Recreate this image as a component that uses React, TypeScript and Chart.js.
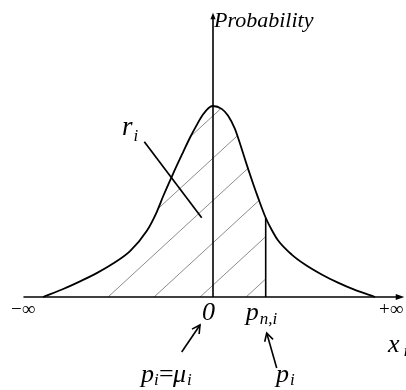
import React, { useEffect, useRef } from "react";
import { Chart, registerables } from "chart.js";
Chart.register(...registerables);

// Density curve (x in arbitrary units, 0 = mean)
const curveX = [-10, -8.81, -7.82, -6.84, -5.88, -4.88, -3.9, -3.31, -2.92, -2.35, -1.75, -1.35, -0.96, -0.59, -0.18, 0, 0.51, 0.88, 1.29, 1.47, 1.78, 2.06, 2.37, 2.65, 3.1, 3.45, 3.82, 4.63, 5.41, 6.39, 7.35, 8.35, 9.53];
const curveY = [0, 0.042, 0.082, 0.125, 0.175, 0.24, 0.345, 0.445, 0.53, 0.645, 0.76, 0.835, 0.9, 0.955, 0.995, 1.0, 0.985, 0.95, 0.88, 0.835, 0.75, 0.672, 0.59, 0.52, 0.415, 0.352, 0.297, 0.222, 0.17, 0.118, 0.075, 0.037, 0];
const pni = 3.1; // p_{n,i}
const mu = 0;
const xRange = [-10, 10];
const yRange = [0, 1.5];
const axisXExtent = [-11.15, 11.25];
const axisYTop = 1.488;
const hatchAnchor = -0.76;
const hatchStartX = -7.4;
const rPointer = [[-4.04, 0.813], [-0.665, 0.415]];

const FONT = '"Liberation Serif", "Times New Roman", serif';

function arrowHead(ctx: CanvasRenderingContext2D, fx: number, fy: number, tx: number, ty: number, len: number, ang: number, filled: boolean) {
  const a = Math.atan2(ty - fy, tx - fx);
  const p1x = tx - len * Math.cos(a - ang), p1y = ty - len * Math.sin(a - ang);
  const p2x = tx - len * Math.cos(a + ang), p2y = ty - len * Math.sin(a + ang);
  ctx.beginPath();
  if (filled) {
    ctx.moveTo(tx, ty); ctx.lineTo(p1x, p1y); ctx.lineTo(p2x, p2y); ctx.closePath(); ctx.fill();
  } else {
    ctx.moveTo(p1x, p1y); ctx.lineTo(tx, ty); ctx.lineTo(p2x, p2y); ctx.stroke();
  }
}

function txt(ctx: CanvasRenderingContext2D, s: string, x: number, y: number, size: number, italic: boolean): number {
  ctx.font = `${italic ? "italic " : ""}${size}px ${FONT}`;
  ctx.fillText(s, x, y);
  return x + ctx.measureText(s).width;
}

const figurePlugin = {
  id: "figure",
  beforeDatasetsDraw(chart: any) {
    const ctx: CanvasRenderingContext2D = chart.ctx;
    const xs = chart.scales.x, ys = chart.scales.y;
    const meta = chart.getDatasetMeta(0);
    meta.dataset.updateControlPoints(chart.chartArea, "x");
    const pts = meta.data;
    const idx = curveX.indexOf(pni);
    const yb = ys.getPixelForValue(0);
    ctx.save();
    ctx.beginPath();
    ctx.moveTo(pts[0].x, yb);
    ctx.lineTo(pts[0].x, pts[0].y);
    for (let i = 1; i <= idx; i++) {
      const p = pts[i - 1], c = pts[i];
      ctx.bezierCurveTo(p.cp2x, p.cp2y, c.cp1x, c.cp1y, c.x, c.y);
    }
    ctx.lineTo(pts[idx].x, yb);
    ctx.closePath();
    ctx.clip();
    const hx = xs.getPixelForValue(hatchStartX);
    ctx.beginPath();
    ctx.rect(hx, 0, chart.width, chart.height);
    ctx.clip();
    ctx.strokeStyle = "#6e6e6e";
    ctx.lineWidth = 0.8;
    const ax = xs.getPixelForValue(hatchAnchor);
    const slope = 0.92, step = 46, L = 420;
    for (let k = -12; k <= 12; k++) {
      const bx = ax + k * step;
      ctx.beginPath();
      ctx.moveTo(bx, yb);
      ctx.lineTo(bx + L, yb - L * slope);
      ctx.stroke();
    }
    ctx.restore();
  },
  afterDatasetsDraw(chart: any) {
    const ctx: CanvasRenderingContext2D = chart.ctx;
    const xs = chart.scales.x, ys = chart.scales.y;
    const x0 = xs.getPixelForValue(mu);
    const xp = xs.getPixelForValue(pni);
    const yb = ys.getPixelForValue(0);
    ctx.save();
    ctx.strokeStyle = "#000";
    ctx.fillStyle = "#000";
    ctx.lineCap = "butt";
    // x axis
    const xl = xs.getPixelForValue(axisXExtent[0]);
    const xr = xs.getPixelForValue(axisXExtent[1]);
    ctx.lineWidth = 1.6;
    ctx.beginPath(); ctx.moveTo(xl, yb); ctx.lineTo(xr - 6, yb); ctx.stroke();
    arrowHead(ctx, xl, yb, xr, yb, 9, 0.33, true);
    // y axis
    const yt = ys.getPixelForValue(axisYTop);
    ctx.beginPath(); ctx.moveTo(x0, yb); ctx.lineTo(x0, yt + 5); ctx.stroke();
    arrowHead(ctx, x0, yb, x0, yt, 7, 0.38, true);
    // r_i pointer
    ctx.lineWidth = 1.7;
    ctx.beginPath();
    ctx.moveTo(xs.getPixelForValue(rPointer[0][0]), ys.getPixelForValue(rPointer[0][1]));
    ctx.lineTo(xs.getPixelForValue(rPointer[1][0]), ys.getPixelForValue(rPointer[1][1]));
    ctx.stroke();
    // pointer arrows below axis
    ctx.lineWidth = 1.6;
    const a1 = [x0 - 31.3, yb + 55, x0 - 13, yb + 28];
    ctx.beginPath(); ctx.moveTo(a1[0], a1[1]); ctx.lineTo(a1[2], a1[3]); ctx.stroke();
    arrowHead(ctx, a1[0], a1[1], a1[2], a1[3], 9, 0.5, false);
    const a2 = [xp + 11, yb + 71, xp + 1, yb + 36];
    ctx.beginPath(); ctx.moveTo(a2[0], a2[1]); ctx.lineTo(a2[2], a2[3]); ctx.stroke();
    arrowHead(ctx, a2[0], a2[1], a2[2], a2[3], 9, 0.5, false);

    // labels
    ctx.textBaseline = "alphabetic";
    ctx.textAlign = "left";
    txt(ctx, "Probability", x0 + 1, 27, 22, true);
    let e = txt(ctx, "r", x0 - 91, 135, 27, true);
    txt(ctx, "i", e + 1, 141, 17, true);
    txt(ctx, "0", x0 - 11, yb + 23, 26, true);
    e = txt(ctx, "p", xp - 20, yb + 23, 26, true);
    txt(ctx, "n,i", e + 1, yb + 27, 17, true);
    txt(ctx, "\u2212\u221E", 11, yb + 18, 19, false);
    txt(ctx, "+\u221E", 379, yb + 18, 19, false);
    txt(ctx, "x", 388, 352, 26, true);
    txt(ctx, "i", 403.5, 356, 17, true);
    e = txt(ctx, "p", 141, 381.5, 26, true);
    txt(ctx, "i", e, 385, 17, true);
    txt(ctx, "=", 159, 381.5, 26, false);
    e = txt(ctx, "\u03BC", 173, 381.5, 26, true);
    txt(ctx, "i", e + 1, 385, 17, true);
    e = txt(ctx, "p", 276, 381.5, 26, true);
    txt(ctx, "i", e + 1, 385, 17, true);
    ctx.restore();
  },
};

export default function App() {
  const ref = useRef<HTMLCanvasElement | null>(null);
  useEffect(() => {
    if (!ref.current) return;
    const idx = curveX.indexOf(pni);
    const chart = new Chart(ref.current, {
      type: "scatter",
      data: {
        datasets: [
          {
            data: curveX.map((x, i) => ({ x, y: curveY[i] })),
            showLine: true,
            borderColor: "#000",
            borderWidth: 1.8,
            pointRadius: 0,
            cubicInterpolationMode: "monotone",
            fill: false,
            clip: false,
          } as any,
          {
            data: [{ x: pni, y: 0 }, { x: pni, y: curveY[idx] }],
            showLine: true,
            borderColor: "#000",
            borderWidth: 1.6,
            pointRadius: 0,
            clip: false,
          } as any,
        ],
      },
      options: {
        animation: false,
        responsive: false,
        devicePixelRatio: 1,
        layout: { padding: { left: 43, right: 23, top: 10.5, bottom: 93 } },
        plugins: { legend: { display: false }, tooltip: { enabled: false } },
        events: [],
        scales: {
          x: { type: "linear", min: xRange[0], max: xRange[1], display: false },
          y: { type: "linear", min: yRange[0], max: yRange[1], display: false },
        },
      },
      plugins: [figurePlugin],
    });
    return () => chart.destroy();
  }, []);
  return (
    <div style={{ position: "fixed", left: 0, top: 0, width: 406, height: 390, background: "#fff" }}>
      <canvas ref={ref} width={406} height={390} />
    </div>
  );
}
